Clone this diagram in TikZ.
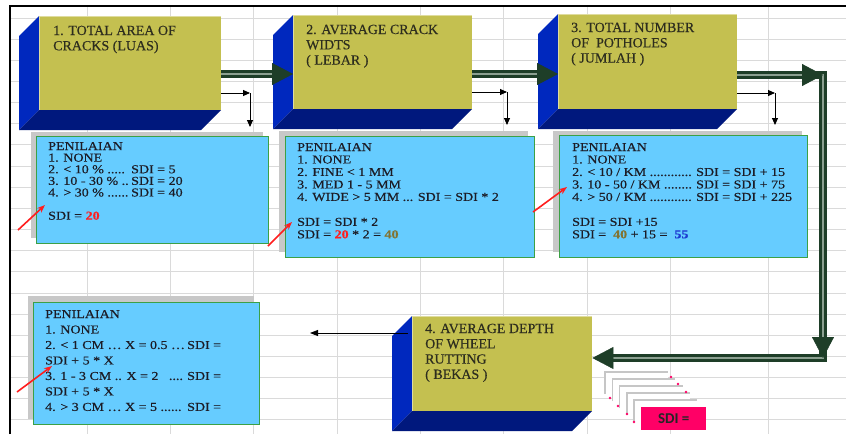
\documentclass[tikz,border=0pt]{standalone}
\usepackage{graphicx}
\usepackage{fontspec}
\setmainfont{Liberation Serif}
\newfontfamily\boxfont{Liberation Serif}[FakeBold=0.35]
\newfontfamily\sdifont{Carlito}
\usetikzlibrary{arrows.meta,calc}
\definecolor{yface}{RGB}{196,192,80}
\definecolor{lface}{RGB}{0,40,190}
\definecolor{bface}{RGB}{0,24,125}
\definecolor{cyanbox}{RGB}{102,204,255}
\definecolor{greenedge}{RGB}{60,160,70}
\definecolor{shadowgray}{RGB}{200,200,200}
\definecolor{gridgray}{RGB}{218,218,218}
\definecolor{dkgreen}{RGB}{30,62,40}
\definecolor{dkgreenlt}{RGB}{140,160,145}
\definecolor{ytext}{RGB}{45,45,30}
\definecolor{btext}{RGB}{28,28,38}
\definecolor{redval}{RGB}{255,30,30}
\definecolor{oliveval}{RGB}{130,115,50}
\definecolor{blueval}{RGB}{30,60,210}
\definecolor{sdipink}{RGB}{255,0,102}
\newcommand\txtblock[2]{\parbox[t]{#1}{\lineskiplimit=-\maxdimen #2}}
\newcommand\sqblock[2]{\scalebox{1}[0.86]{\txtblock{#1}{#2}}}
\newcommand\ybox[5]{%
  \fill[lface] (#2,#3) -- (#2-20,#3+20) -- (#2-20,#5+20) -- (#2,#5) -- cycle;
  \fill[bface] (#2,#5) -- (#4,#5) -- (#4-20,#5+20) -- (#2-20,#5+20) -- cycle;
  \node[yfront, anchor=north west, minimum width=#4-#2, minimum height=#5-#3] (#1) at (#2,#3) {};
  \draw[yface!55!white, line width=0.8pt] (#2+0.4,#5) -- (#2+0.4,#3+0.4) -- (#4,#3+0.4);
}
\begin{document}
\begin{tikzpicture}[x=1pt,y=-1pt,
  yfront/.style={fill=yface, draw=none, inner sep=0},
  ytxt/.style={font=\boxfont\fontsize{14}{15.3}\selectfont, text=ytext, inner sep=0, anchor=base west},
  cbox/.style={fill=cyanbox, draw=greenedge, line width=1.3pt, inner sep=0, anchor=north west},
  cshadow/.style={fill=shadowgray, draw=none},
  btxt/.style={text=btext, inner sep=0, anchor=base west},
  bigshaft/.style={draw=dkgreen, line width=2.8pt, double=dkgreenlt, double distance=1.6pt, line join=miter},
  bigtip/.style={-{Triangle[length=21pt,width=22pt]}, draw=dkgreen, fill=dkgreen, line width=0.4pt},
  smallarrow/.style={-{Triangle[length=7pt,width=6pt]}, draw=black, line width=0.9pt},
  redarrow/.style={-{Stealth[length=8pt,width=6pt]}, draw=redval, line width=1.6pt},
  gridline/.style={draw=gridgray, line width=0.9pt},
  stacklayer/.style={draw=gray!45, line width=1.6pt},
]
\useasboundingbox (0,0) rectangle (846,434);
\fill[white] (0,0) rectangle (846,434);
% spreadsheet grid
\foreach \x in {87,170,253,337,420,503,587,670,768} \draw[gridline] (\x,6) -- (\x,434);
\foreach \k in {0,...,19} \draw[gridline] (10,18+21.15*\k) -- (846,18+21.15*\k);
% frame
\draw[black, line width=2pt] (10,434) -- (10,6) -- (846,6);

% yellow 3D boxes
\ybox{b1}{39}{16}{221}{110}
\ybox{b2}{293}{15}{472}{109}
\ybox{b3}{558}{14}{737}{109}
\ybox{b4}{412}{316}{592}{411}
\node[ytxt] (b1t) at (53,35) {\txtblock{170pt}{1. TOTAL AREA OF\\CRACKS (LUAS)}};
\node[ytxt] (b2t) at (306,34) {\txtblock{165pt}{2. AVERAGE CRACK\\WIDTS\\( LEBAR )}};
\node[ytxt] (b3t) at (571,32) {\txtblock{165pt}{3. TOTAL NUMBER\\OF\ \ POTHOLES\\( JUMLAH )}};
\node[ytxt] (b4t) at (425,333) {\txtblock{165pt}{4. AVERAGE DEPTH\\OF WHEEL\\RUTTING\\( BEKAS )}};

% small black elbow arrows
\coordinate (k1) at (250,93);  \coordinate (e1) at (250,127);
\coordinate (k2) at (507,92);  \coordinate (e2) at (507,125);
\coordinate (k3) at (775,93);  \coordinate (e3) at (775,125);
\draw[smallarrow] (b1.east |- k1) -- (k1);
\draw[smallarrow] (k1) -- (e1);
\draw[smallarrow] (b2.east |- k2) -- (k2);
\draw[smallarrow] (k2) -- (e2);
\draw[smallarrow] (b3.east |- k3) -- (k3);
\draw[smallarrow] (k3) -- (e3);

% blue assessment boxes
\fill[cshadow] (31,132) rectangle (263,238);
\node[cbox, minimum width=232, minimum height=107] (pa) at (36,136) {};
\fill[cshadow] (279,131) rectangle (528,252);
\node[cbox, minimum width=249, minimum height=121] (pb) at (285,136) {};
\fill[cshadow] (553,131) rectangle (802,252);
\node[cbox, minimum width=248, minimum height=122] (pc) at (559,135) {};
\fill[cshadow] (28,296) rectangle (254,419);
\node[cbox, minimum width=226, minimum height=122] (pd) at (33,302) {};

\node[btxt, font=\boxfont\fontsize{14}{13.5}\selectfont] (pat) at (48,150) {\sqblock{215pt}{PENILAIAN\\
1. NONE\\
\makebox[83pt][l]{2. < 10 \% .....}SDI = 5\\
\makebox[83pt][l]{3. 10 - 30 \% ..}SDI = 20\\
\makebox[83pt][l]{4. > 30 \% ......}SDI = 40\\
\mbox{}\\
SDI = {\color{redval}\textbf{20}}}};

\node[btxt, font=\boxfont\fontsize{14}{14.5}\selectfont] (pbt) at (297,151) {\sqblock{230pt}{PENILAIAN\\
1. NONE\\
2. FINE < 1 MM\\
3. MED 1 - 5 MM\\
4. WIDE > 5 MM ... SDI = SDI * 2\\
\mbox{}\\
SDI = SDI * 2\\
SDI = {\color{redval}\textbf{20}} * 2 = {\color{oliveval}\textbf{40}}}};

\node[btxt, font=\boxfont\fontsize{14}{14.5}\selectfont] (pct) at (572,151) {\sqblock{232pt}{PENILAIAN\\
1. NONE\\
\makebox[124pt][l]{2. < 10 / KM ............}SDI = SDI + 15\\
\makebox[124pt][l]{3. 10 - 50 / KM ........}SDI = SDI + 75\\
\makebox[124pt][l]{4. > 50 / KM ............}SDI = SDI + 225\\
\mbox{}\\
SDI = SDI +15\\
SDI = \ {\color{oliveval}\textbf{40}} + 15 = \ {\color{blueval}\textbf{55}}}};

\node[btxt, font=\boxfont\fontsize{14}{18}\selectfont] (pdt) at (45,318) {\sqblock{210pt}{PENILAIAN\\
1. NONE\\
\makebox[142pt][l]{2. < 1 CM … X = 0.5 … }SDI =\\
SDI + 5 * X\\
\makebox[142pt][l]{3. 1 - 3 CM .. X = 2 \ \ ....}SDI =\\
SDI + 5 * X\\
\makebox[142pt][l]{4. > 3 CM … X = 5 ......}SDI =}};

% big flow arrows
\coordinate (ya) at (0,74);
\coordinate (c1) at (823,75);
\coordinate (c2) at (823,358);
\draw[bigshaft, shorten >=14pt] (b1.east |- ya) -- (b2.west |- ya);
\draw[bigtip] ($(b2.west |- ya)+(-2,0)$) -- (b2.west |- ya);
\draw[bigshaft, shorten >=14pt] (b2.east |- ya) -- (b3.west |- ya);
\draw[bigtip] ($(b3.west |- ya)+(-2,0)$) -- (b3.west |- ya);
\draw[bigshaft, shorten >=14pt] (b3.east |- c1) -- (c1) -- (c2) -- (b4.east |- c2);
\draw[bigtip] ($(c1)+(-2,0)$) -- (c1);
\draw[bigtip] ($(c2)+(0,-2)$) -- (c2);
\draw[bigtip] ($(b4.east |- c2)+(2,0)$) -- (b4.east |- c2);

% arrow out of box 4
\coordinate (y4) at (0,333);
\coordinate (l4) at (310,333);
\draw[-{Triangle[length=8pt,width=6pt]}, draw=black, line width=0.9pt] ($(b4.west |- y4)+(-4,0)$) -- (l4);

% red pointer arrows
\coordinate (r1s) at (18,230); \coordinate (r1e) at (45,205);
\coordinate (r2s) at (268,246); \coordinate (r2e) at (292,222);
\coordinate (r3s) at (533,212); \coordinate (r3e) at (567,187);
\coordinate (r4s) at (17,392); \coordinate (r4e) at (52,366);
\draw[redarrow] (r1s) -- (r1e);
\draw[redarrow] (r2s) -- (r2e);
\draw[redarrow] (r3s) -- (r3e);
\draw[redarrow] (r4s) -- (r4e);

% SDI stack
\foreach \k in {0,...,4} {
  \fill[white] (605+7.3*\k,372+7*\k) rectangle ++(63,22);
  \draw[stacklayer] (605+7.3*\k,394+7*\k) -- (605+7.3*\k,372+7*\k) -- ++(63,0);
}
\foreach \p in {(671,377),(678,384),(686,392),(610,398),(618,406),(627,414),(634,422)}
  \fill[sdipink] \p circle (1.3pt);
\node[fill=sdipink, minimum width=65, minimum height=23, anchor=north west, inner sep=0,
      font=\sdifont\bfseries\fontsize{15}{15}\selectfont, text=black!85] (sdi) at (641,407) {SDI =};
\end{tikzpicture}
\end{document}
